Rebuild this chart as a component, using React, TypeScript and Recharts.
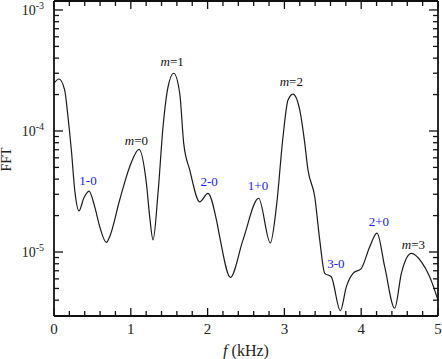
import React from "react";
import { LineChart, Line, XAxis, YAxis, ReferenceDot, Label } from "recharts";

const FONT = '"Liberation Serif", "Times New Roman", serif';
const INK = "#111";
const BLUE = "#1a1ae6";

// frequency (kHz) and FFT amplitude
const freq = [
  0, 0.065, 0.139, 0.182, 0.226, 0.27, 0.326, 0.387, 0.456, 0.53, 0.595, 0.682,
  0.725, 0.855, 0.986, 1.107, 1.203, 1.246, 1.29, 1.354, 1.42, 1.485, 1.559,
  1.637, 1.689, 1.767, 1.897, 2.005, 2.115, 2.157, 2.297, 2.461, 2.665, 2.817,
  2.896, 2.982, 3.047, 3.112, 3.199, 3.26, 3.307, 3.395, 3.46, 3.525, 3.61,
  3.729, 3.807, 3.894, 4.0, 4.11, 4.206, 4.306, 4.436, 4.523, 4.654, 4.784,
  4.892, 5.0,
];
const fft = [
  2.48e-4, 2.69e-4, 2.18e-4, 1.31e-4, 6.97e-5, 3.25e-5, 2.19e-5, 2.78e-5,
  3.19e-5, 2.37e-5, 1.62e-5, 1.2e-5, 1.34e-5, 2.69e-5, 5.07e-5, 7.06e-5,
  3.7e-5, 1.96e-5, 1.26e-5, 3.05e-5, 1.09e-4, 2.32e-4, 3.0e-4, 2.05e-4, 7.9e-5,
  4.77e-5, 2.6e-5, 3.05e-5, 1.84e-5, 1.34e-5, 6.18e-6, 1.26e-5, 2.78e-5,
  1.19e-5, 2.37e-5, 8.97e-5, 1.8e-4, 2.02e-4, 1.5e-4, 8.4e-5, 4.77e-5, 2.86e-5,
  1.26e-5, 6.67e-6, 6.25e-6, 3.27e-6, 5.17e-6, 6.67e-6, 7.3e-6, 1.1e-5,
  1.43e-5, 7.56e-6, 3.43e-6, 6.67e-6, 9.75e-6, 8.3e-6, 6.25e-6, 4.0e-6,
];

const xTicks = [
  0, 0.2, 0.4, 0.6, 0.8, 1, 1.2, 1.4, 1.6, 1.8, 2, 2.2, 2.4, 2.6, 2.8, 3, 3.2,
  3.4, 3.6, 3.8, 4, 4.2, 4.4, 4.6, 4.8, 5,
];
const yTicks = [
  4e-6, 5e-6, 6e-6, 7e-6, 8e-6, 9e-6, 1e-5, 2e-5, 3e-5, 4e-5, 5e-5, 6e-5, 7e-5,
  8e-5, 9e-5, 1e-4, 2e-4, 3e-4, 4e-4, 5e-4, 6e-4, 7e-4, 8e-4, 9e-4, 1e-3,
];
const yDomain = [2.96e-6, 1.186e-3];

// mode labels (black, italic m) and mixing labels (blue)
const modeNames = ["0", "1", "2", "3"];
const modeX = [1.073, 1.539, 3.09, 4.68];
const modeY = [7.69e-5, 3.42e-4, 2.36e-4, 1.067e-5];
const mixNames = ["1-0", "2-0", "1+0", "3-0", "2+0"];
const mixX = [0.443, 2.02, 2.656, 3.67, 4.23];
const mixY = [3.6e-5, 3.5e-5, 3.27e-5, 7.43e-6, 1.64e-5];

const data = freq.map((f, i) => ({ f, fft: fft[i] }));

const isMajorX = (v: number) => Math.abs(v - Math.round(v)) < 1e-6;
const isMajorY = (v: number) => {
  const l = Math.log10(v);
  return Math.abs(l - Math.round(l)) < 1e-6;
};

function BottomTick(props: any) {
  const { x, y, payload } = props;
  const major = isMajorX(payload.value);
  return (
    <g>
      <line x1={x} x2={x} y1={y} y2={y - (major ? 8 : 5)} stroke={INK} strokeWidth={1.3} />
      {major && (
        <text x={x} y={y + 18} textAnchor="middle" fontFamily={FONT} fontSize={15} fill="#222">
          {Math.round(payload.value)}
        </text>
      )}
    </g>
  );
}

function TopTick(props: any) {
  const { x, y, payload } = props;
  const major = isMajorX(payload.value);
  return <line x1={x} x2={x} y1={y} y2={y + (major ? 8 : 5)} stroke={INK} strokeWidth={1.3} />;
}

function LeftTick(props: any) {
  const { x, y, payload } = props;
  const major = isMajorY(payload.value);
  const e = Math.round(Math.log10(payload.value));
  return (
    <g>
      <line x1={x} x2={x + (major ? 9 : 5)} y1={y} y2={y} stroke={INK} strokeWidth={1.3} />
      {major && (
        <text x={x - 10} y={y + 5} textAnchor="end" fontFamily={FONT} fontSize={14} fill="#222">
          <tspan>10</tspan>
          <tspan dy={-6} fontSize={10}>{String(e)}</tspan>
        </text>
      )}
    </g>
  );
}

function RightTick(props: any) {
  const { x, y, payload } = props;
  const major = isMajorY(payload.value);
  return <line x1={x} x2={x - (major ? 9 : 5)} y1={y} y2={y} stroke={INK} strokeWidth={1.3} />;
}

export default function App() {
  return (
    <div style={{ position: "absolute", left: 0, top: 0, width: 442, height: 359, background: "#fff" }}>
      <LineChart width={442} height={359} data={data} margin={{ top: 0, right: 3, bottom: 0, left: 0 }}>
        <XAxis
          dataKey="f"
          type="number"
          domain={[0, 5]}
          ticks={xTicks}
          interval={0}
          height={43}
          tickSize={0}
          tickMargin={0}
          tickLine={false}
          axisLine={{ stroke: INK, strokeWidth: 1.8 }}
          tick={(p: any) => <BottomTick {...p} />}
        >
          <Label
            content={(p: any) => {
              const vb = p.viewBox;
              return (
                <text x={vb.x + vb.width / 2} y={vb.y + 39.5} textAnchor="middle" fontFamily={FONT} fontSize={16} fill="#222">
                  <tspan fontStyle="italic">f</tspan>
                  <tspan> (kHz)</tspan>
                </text>
              );
            }}
          />
        </XAxis>
        <XAxis
          xAxisId="top"
          orientation="top"
          dataKey="f"
          type="number"
          domain={[0, 5]}
          ticks={xTicks}
          interval={0}
          height={1}
          tickSize={0}
          tickMargin={0}
          tickLine={false}
          axisLine={{ stroke: INK, strokeWidth: 1.8 }}
          tick={(p: any) => <TopTick {...p} />}
        />
        <YAxis
          scale="log"
          type="number"
          domain={yDomain}
          allowDataOverflow
          ticks={yTicks}
          interval={0}
          width={54}
          tickSize={0}
          tickMargin={0}
          tickLine={false}
          axisLine={{ stroke: INK, strokeWidth: 1.8 }}
          tick={(p: any) => <LeftTick {...p} />}
        >
          <Label
            content={(p: any) => {
              const vb = p.viewBox;
              const cx = vb.x + 11;
              const cy = vb.y + vb.height / 2 + 1;
              return (
                <text x={cx} y={cy} transform={`rotate(-90, ${cx}, ${cy})`} textAnchor="middle" fontFamily={FONT} fontSize={14} fill="#222">
                  FFT
                </text>
              );
            }}
          />
        </YAxis>
        <YAxis
          yAxisId="right"
          orientation="right"
          scale="log"
          type="number"
          domain={yDomain}
          allowDataOverflow
          ticks={yTicks}
          interval={0}
          width={1}
          tickSize={0}
          tickMargin={0}
          tickLine={false}
          axisLine={{ stroke: INK, strokeWidth: 1.8 }}
          tick={(p: any) => <RightTick {...p} />}
        />
        <Line
          xAxisId="top"
          yAxisId="right"
          dataKey="fft"
          stroke="none"
          dot={false}
          activeDot={false}
          isAnimationActive={false}
        />
        <Line
          type="monotone"
          dataKey="fft"
          stroke="#1a1a1a"
          strokeWidth={1.2}
          dot={false}
          activeDot={false}
          isAnimationActive={false}
        />
        {modeNames.map((n, i) => (
          <ReferenceDot
            key={"m" + n}
            x={modeX[i]}
            y={modeY[i]}
            r={1}
            shape={(p: any) => (
              <text x={p.cx} y={p.cy} textAnchor="middle" fontFamily={FONT} fontSize={13} fill="#111">
                <tspan fontStyle="italic">m</tspan>
                <tspan>={n}</tspan>
              </text>
            )}
          />
        ))}
        {mixNames.map((n, i) => (
          <ReferenceDot
            key={"x" + n}
            x={mixX[i]}
            y={mixY[i]}
            r={1}
            shape={(p: any) => (
              <text x={p.cx} y={p.cy} textAnchor="middle" fontFamily={FONT} fontSize={13} fill={BLUE}>
                {n}
              </text>
            )}
          />
        ))}
      </LineChart>
    </div>
  );
}
